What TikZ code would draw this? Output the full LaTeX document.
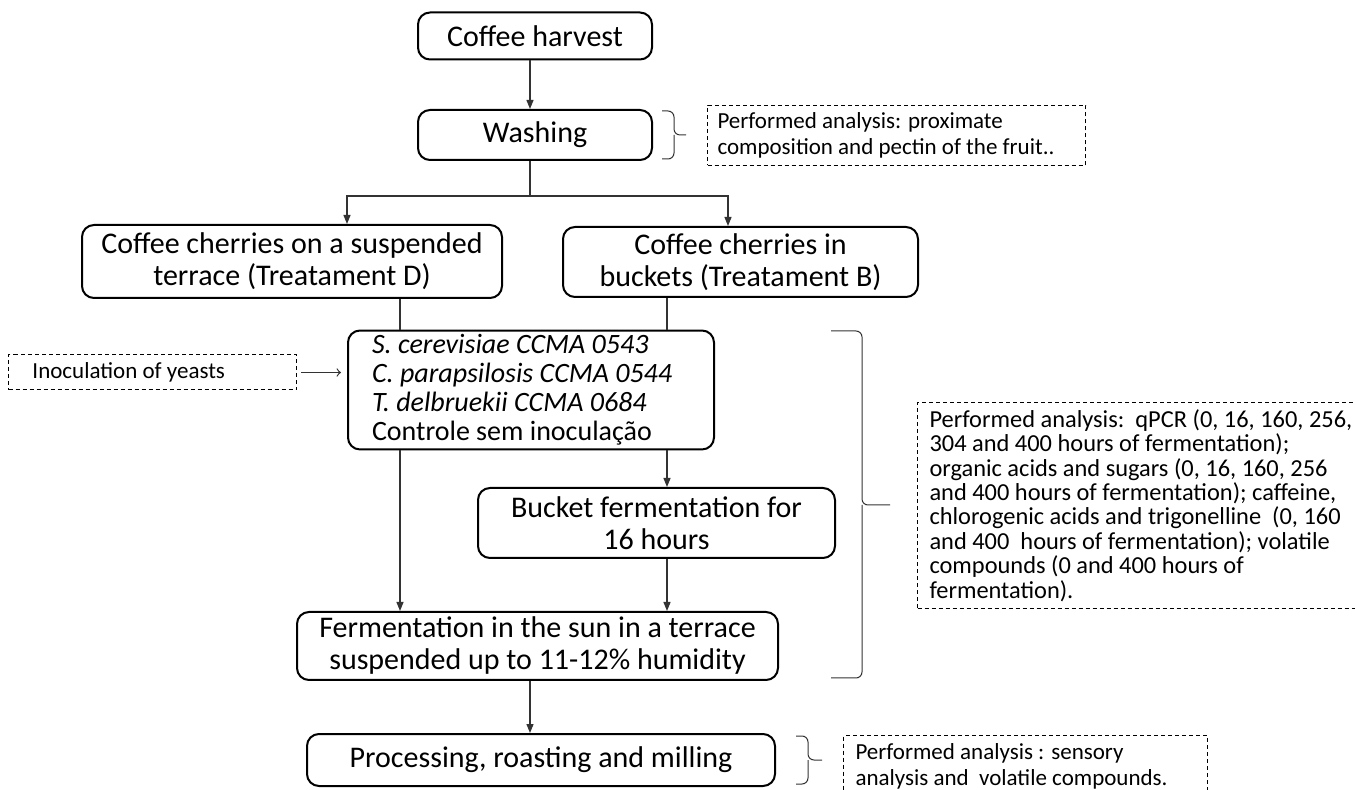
\documentclass[tikz,border=0pt]{standalone}
\usepackage{fontspec}
\setmainfont{Carlito}
\usetikzlibrary{arrows.meta}

\tikzset{
  box/.style={draw, line width=1pt, rounded corners=6pt, align=center, inner sep=2pt,
    font=\fontsize{15}{16}\selectfont},
  note/.style={draw, dash pattern=on 2pt off 1.5pt, line width=0.5pt, align=flush left,
    anchor=north west, font=\fontsize{11.5}{13}\selectfont},
  line/.style={line width=0.6pt, draw=black!80},
  arr/.style={line, -{Triangle[length=4.5pt,width=3.5pt]}},
  brc/.style={line width=0.5pt, draw=black!80, rounded corners=3pt}
}

\begin{document}
\begin{tikzpicture}[x=0.5pt, y=-0.5pt]
 \useasboundingbox (0,0) rectangle (1355,790);

 % columns of the connectors
 \coordinate (mcol) at (530,0);
 \coordinate (lcol) at (400,0);
 \coordinate (rcol) at (667,0);
 \coordinate (dcol) at (347,0);
 \coordinate (bcol) at (728,0);

 \node[box, minimum width=117pt, minimum height=23.5pt] (harv) at (535,36) {Coffee harvest};
 \node[box, minimum width=117pt, minimum height=25pt] (wash) at (535,135) {Washing};
 \node[box, minimum width=210pt, minimum height=36.5pt] (trtD) at (292,261.5)
   {Coffee cherries on a suspended\\ terrace (Treatament D)};
 \node[box, minimum width=177.5pt, minimum height=35pt] (trtB) at (740.5,262)
   {Coffee cherries in\\ buckets (Treatament B)};
 \node[box, align=flush left, text width=159pt, inner xsep=12pt, minimum height=57pt,
   font=\fontsize{14}{14.5}\selectfont] (yeast) at (531,390)
   {\textit{S. cerevisiae CCMA 0543}\\ \textit{C. parapsilosis CCMA 0544}\\
    \textit{T. delbruekii CCMA 0684}\\ Controle sem inoculação};
 \node[box, minimum width=178.5pt, minimum height=35pt] (bucket) at (656.5,523)
   {Bucket fermentation for\\ 16 hours};
 \node[box, minimum width=240.5pt, minimum height=34pt] (ferm) at (537.5,646)
   {Fermentation in the sun in a terrace\\ suspended up to 11-12\% humidity};
 \node[box, minimum width=234pt, minimum height=26pt] (proc) at (541,760)
   {Processing, roasting and milling};

 % dashed notes
 \node[note, text width=120pt, minimum height=17.5pt, inner xsep=12pt, anchor=west] (inoc) at (8,372.5)
   {Inoculation of yeasts};
 \node[note, text width=179pt, minimum height=30pt, inner xsep=5pt] (anaW) at (707,105)
   {Performed analysis: proximate\\ composition and pectin of the fruit..};
 \node[note, text width=215pt, minimum height=103pt, inner xsep=6pt,
   font=\fontsize{12.2}{12.2}\selectfont] (anaF) at (917,402)
   {Performed analysis:\ \ qPCR (0, 16, 160, 256,\\ 304 and 400 hours of fermentation);\\
    organic acids and sugars (0, 16, 160, 256\\ and 400 hours of fermentation); caffeine,\\
    chlorogenic acids and trigonelline\ \ (0, 160\\ and 400\ \ hours of fermentation); volatile\\
    compounds (0 and 400 hours of\\ fermentation).};
 \node[note, text width=170pt, minimum height=31pt, inner xsep=6pt] (anaP) at (843,735)
   {Performed analysis : sensory\\ analysis and\ \ volatile compounds.};

 % flow
 \draw[arr] (harv.south -| mcol) -- (wash.north -| mcol);
 \coordinate (split) at (530,196);
 \draw[line] (wash.south -| mcol) -- (split);
 \draw[arr] (split) -| (trtD.north -| dcol);
 \draw[arr] (split) -| (trtB.north -| bcol);
 \draw[line] (trtD.south -| lcol) -- (yeast.north -| lcol);
 \draw[line] (trtB.south -| rcol) -- (yeast.north -| rcol);
 \draw[line, -to, shorten <=2pt, shorten >=3pt] (inoc.east) -- (inoc.east -| yeast.west);
 \draw[arr] (yeast.south -| rcol) -- (bucket.north -| rcol);
 \draw[arr] (yeast.south -| lcol) -- (ferm.north -| lcol);
 \draw[arr] (bucket.south -| rcol) -- (ferm.north -| rcol);
 \draw[arr] (ferm.south -| mcol) -- (proc.north -| mcol);

 % braces
 \draw[brc] (662,111) -| (674,135) -- (686,135);
 \draw[brc] (662,159) -| (674,135);
 \draw[brc] (831,331) -| (862,505) -- (890,505);
 \draw[brc] (831,678) -| (862,505);
 \draw[brc] (796,736) -| (808,760) -- (822,760);
 \draw[brc] (796,784) -| (808,760);
\end{tikzpicture}
\end{document}
